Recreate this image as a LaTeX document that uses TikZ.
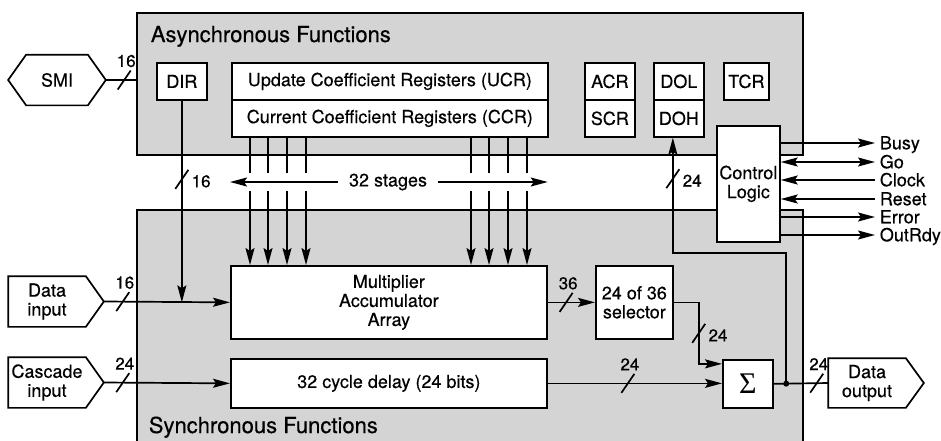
\documentclass[tikz,border=0pt]{standalone}
\usepackage{fontspec}
\setmainfont{TeX Gyre Heros}[FakeBold=0.4]
\newfontfamily\greekserif{Liberation Serif}
\usetikzlibrary{arrows.meta}
\begin{document}
\begin{tikzpicture}[
  x=1pt, y=-1pt, line width=1.7pt,
  every node/.style={font=\fontsize{18}{19}\selectfont},
  region/.style={draw, line width=1.5pt, fill=black!17, anchor=north west, inner sep=0pt},
  title/.style={anchor=base west, inner sep=0pt, font=\fontsize{22}{22}\selectfont},
  blk/.style={draw, fill=white, anchor=north west, inner sep=0pt, align=center},
  port/.style={inner sep=0pt, align=center, minimum width=76pt, minimum height=49pt},
  sig/.style={anchor=west, inner xsep=4pt, inner ysep=0pt, text height=12.5pt, text depth=0pt},
  arr/.style={-{Stealth[length=17pt,width=9pt,inset=3pt]}},
  arrs/.style={{Stealth[length=17pt,width=9pt,inset=3pt]}-{Stealth[length=17pt,width=9pt,inset=3pt]}},
  bustext/.style={inner sep=0pt, font=\fontsize{17}{17}\selectfont},
  pics/busH/.style={code={\draw (-6.5,9.5) -- (6.5,-9.5); \node[bustext] (-t) at (2,-19) {#1};}},
  pics/busV/.style={code={\draw (-6.5,9.5) -- (6.5,-9.5); \node[bustext, anchor=west] (-t) at (9,2) {#1};}},
]
\useasboundingbox (0,0) rectangle (941,440);
\fill[white] (0,0) rectangle (941,440);
\clip (0,0) rectangle (941,440);

% shaded functional regions
\node[region, minimum width=666pt, minimum height=142pt] (async) at (136,12) {};
\node[region, minimum width=666pt, minimum height=240pt] (sync) at (136,209) {};
\node[title] (atitle) at (150,42) {Asynchronous Functions};
\node[title] (stitle) at (148,433) {Synchronous Functions};

% registers
\node[blk, minimum width=50pt, minimum height=37pt] (dir) at (156,62) {DIR};
\node[blk, minimum width=316pt, minimum height=37pt] (ucr) at (231,62) {Update Coefficient Registers (UCR)};
\node[blk, minimum width=316pt, minimum height=37pt] (ccr) at (231,99) {Current Coefficient Registers (CCR)};
\node[blk, minimum width=50pt, minimum height=37pt] (acr) at (584,62) {ACR};
\node[blk, minimum width=50pt, minimum height=37pt] (scr) at (584,99) {SCR};
\node[blk, minimum width=50pt, minimum height=37pt] (dol) at (653,62) {DOL};
\node[blk, minimum width=50pt, minimum height=37pt] (doh) at (653,99) {DOH};
\node[blk, minimum width=45pt, minimum height=37pt] (tcr) at (723,62) {TCR};
\node[blk, minimum width=63pt, minimum height=116pt] (ctl) at (716,125) {Control\\Logic};

% datapath
\node[blk, minimum width=316pt, minimum height=73pt] (maa) at (230,265) {Multiplier\\Accumulator\\Array};
\node[blk, minimum width=316pt, minimum height=49pt] (dly) at (230,358) {32 cycle delay (24 bits)};
\node[blk, minimum width=77pt, minimum height=73pt] (sel) at (595,265) {24 of 36\\selector};
\node[blk, minimum width=50pt, minimum height=48pt] (sum) at (722,359) {\greekserif\fontsize{30}{30}\selectfont Σ};

% external ports
\node[port, minimum width=60pt] (smi) at (57,80) {SMI};
\draw (smi.north east) -- ([xshift=18pt]smi.east) coordinate (smi-tip) -- (smi.south east)
  -- (smi.south west) -- ([xshift=-18pt]smi.west) -- (smi.north west) -- cycle;
\node[port] (din) at (47,301.5) {Data\\input};
\draw (din.north west) -- (din.north east) -- ([xshift=18pt]din.east) coordinate (din-tip)
  -- (din.south east) -- (din.south west) -- cycle;
\node[port] (cin) at (47,382.5) {Cascade\\input};
\draw (cin.north west) -- (cin.north east) -- ([xshift=18pt]cin.east) coordinate (cin-tip)
  -- (cin.south east) -- (cin.south west) -- cycle;
\node[port, minimum height=48pt] (dout) at (867,383) {Data\\output};
\draw (dout.north west) -- (dout.north east) -- ([xshift=18pt]dout.east)
  -- (dout.south east) -- (dout.south west) -- cycle;

% input buses
\draw (smi-tip) -- coordinate[pos=0.61] (b-smi) (smi-tip -| async.west);
\pic (bsmi) at (b-smi) {busH=16};
\draw[arr] (dir.south) -- coordinate[pos=0.39] (b-dir) (dir.south |- maa.west);
\pic (bdir) at (b-dir) {busV=16};
\draw[arr] (din-tip) -- coordinate[pos=0.15] (b-din) (maa.west);
\pic (bdin) at (b-din) {busH=16};
\draw[arr] (cin-tip) -- coordinate[pos=0.15] (b-cin) (dly.west);
\pic (bcin) at (b-cin) {busH=24};

% coefficient taps, interrupted by the stage arrow
\coordinate (gap-top) at (0,173);
\coordinate (gap-bot) at (0,191);
\foreach \x in {250,268,287,306,471,489,508,527} {
  \draw (\x,0 |- ccr.south) -- (\x,0 |- gap-top);
  \draw[arr] (\x,0 |- gap-bot) -- (\x,0 |- maa.north);
}
\node[fill=white, inner xsep=10pt, inner ysep=2pt] (stages) at (388,182) {32 stages};
\draw[arr] (stages.west) -- (maa.west |- stages.west);
\draw[arr] (stages.east) -- (maa.east |- stages.east);

% accumulation path
\draw[arr] (maa.east) -- coordinate[pos=0.39] (b-maa) (sel.west);
\pic (bmaa) at (b-maa) {busH=36};
\draw[arr] (sel.east) -- ++(25,0) coordinate (sel-bend) |- ([yshift=20pt]sum.west);
\pic (bsel) at ([yshift=-31pt]sel-bend) {busV=24};
\draw[arr] (dly.east) -- coordinate[pos=0.46] (b-dly) (sum.west |- dly.east);
\pic (bdly) at (b-dly) {busH=24};
\draw (sum.east) -- coordinate[pos=0.23] (jn) coordinate[pos=0.79] (b-out) (dout.west);
\fill (jn) circle[radius=3pt];
\pic (bout) at (b-out) {busH=24};

% read-back of the output into DOL/DOH
\draw[arr] (jn) -- ++(0,-131) -| ([xshift=-6pt]doh.south);
\pic (bfb) at ([xshift=-6pt,yshift=-41pt]doh.south) {busV=24};

% control signals
\node[sig] (busy) at (875,143) {Busy};
\node[sig] (go) at (875,162) {Go};
\node[sig] (clock) at (875,180) {Clock};
\node[sig] (reset) at (875,199) {Reset};
\node[sig] (error) at (875,217) {Error};
\node[sig] (outrdy) at (875,235) {OutRdy};
\draw[arr] (ctl.east |- busy.west) -- (busy.west);
\draw[arrs] (ctl.east |- go.west) -- (go.west);
\draw[arr] (clock.west) -- (ctl.east |- clock.west);
\draw[arr] (reset.west) -- (ctl.east |- reset.west);
\draw[arr] (ctl.east |- error.west) -- (error.west);
\draw[arr] (ctl.east |- outrdy.west) -- (outrdy.west);
\end{tikzpicture}
\end{document}
